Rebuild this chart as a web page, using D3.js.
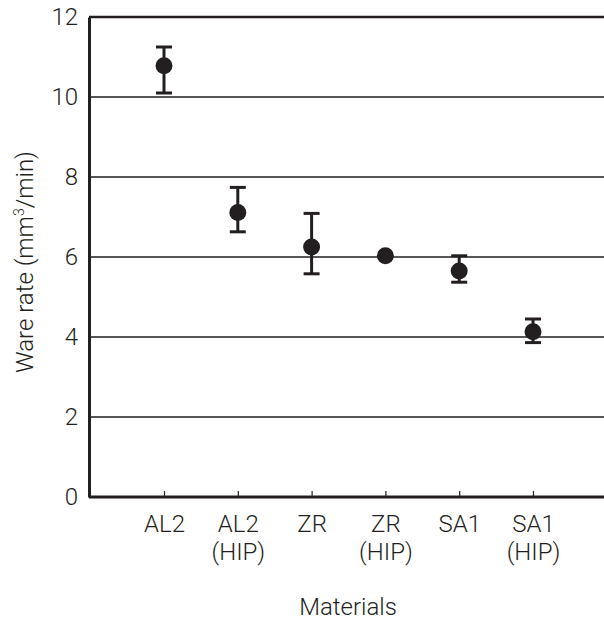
<!DOCTYPE html>
<html>
<head>
<meta charset="utf-8">
<script src="https://cdn.jsdelivr.net/npm/d3@7"></script>
<style>
  body { margin: 0; background: #fff; }
  text { font-family: Roboto, "Liberation Sans", sans-serif; font-weight: 300; fill: #231f20; }
</style>
</head>
<body>
<script>
// data
var materials = ["AL2", "AL2\n(HIP)", "ZR", "ZR\n(HIP)", "SA1", "SA1\n(HIP)"];
var wearRate  = [10.78, 7.11, 6.25, 6.03, 5.65, 4.13];
var errHigh   = [11.25, 7.74, 7.09, null, 6.03, 4.45];
var errLow    = [10.10, 6.63, 5.58, null, 5.37, 3.86];
var yTicks    = [0, 2, 4, 6, 8, 10, 12];

var W = 604, H = 621;
var plotLeft = 89, plotRight = 604, plotTop = 17, plotBottom = 497;
var ink = "#231f20";
var fs = 24;

var svg = d3.select("body").append("svg")
    .attr("width", W)
    .attr("height", H);

var x = d3.scalePoint().domain(materials).range([164, 533]);
var y = d3.scaleLinear().domain([0, 12]).range([plotBottom, plotTop]);

// gridlines
svg.append("g")
  .selectAll("line")
  .data(yTicks.filter(function(d) { return d > 0 && d < 12; }))
  .enter().append("line")
    .attr("x1", plotLeft).attr("x2", plotRight)
    .attr("y1", function(d) { return y(d); })
    .attr("y2", function(d) { return y(d); })
    .attr("stroke", ink)
    .attr("stroke-width", 1.3);

// top border
svg.append("line")
    .attr("x1", plotLeft).attr("x2", plotRight)
    .attr("y1", y(12)).attr("y2", y(12))
    .attr("stroke", ink).attr("stroke-width", 2.5);

// y axis
var yAxis = svg.append("g")
    .attr("transform", "translate(" + plotLeft + ",0)")
    .call(d3.axisLeft(y).tickValues(yTicks).tickSize(0).tickPadding(11));
yAxis.select(".domain").attr("stroke", ink).attr("stroke-width", 3);
yAxis.selectAll("text").attr("font-size", fs).attr("fill", ink)
    .attr("font-family", "Roboto, sans-serif");

// x axis
var xAxis = svg.append("g")
    .attr("transform", "translate(0," + plotBottom + ")")
    .call(d3.axisBottom(x).tickSize(-6).tickFormat(""));
xAxis.select(".domain").attr("d", "M" + plotLeft + ",0H" + plotRight)
    .attr("stroke", ink).attr("stroke-width", 3);
xAxis.selectAll(".tick line").attr("stroke", ink).attr("stroke-width", 1.2);

xAxis.selectAll(".tick").each(function(d) {
  var t = d3.select(this).append("text")
      .attr("text-anchor", "middle")
      .attr("font-size", fs)
      .attr("fill", ink);
  d.split("\n").forEach(function(line, i) {
    t.append("tspan").attr("x", 0).attr("y", 35 + i * 28).text(line);
  });
});

// error bars
var idx = d3.range(materials.length).filter(function(i) { return errHigh[i] != null; });
var eb = svg.append("g").attr("stroke", ink).attr("stroke-width", 3);
eb.selectAll(".stem").data(idx).enter().append("line")
    .attr("x1", function(i) { return x(materials[i]); })
    .attr("x2", function(i) { return x(materials[i]); })
    .attr("y1", function(i) { return y(errHigh[i]); })
    .attr("y2", function(i) { return y(errLow[i]); });
eb.selectAll(".capTop").data(idx).enter().append("line")
    .attr("x1", function(i) { return x(materials[i]) - 8; })
    .attr("x2", function(i) { return x(materials[i]) + 8; })
    .attr("y1", function(i) { return y(errHigh[i]); })
    .attr("y2", function(i) { return y(errHigh[i]); });
eb.selectAll(".capBot").data(idx).enter().append("line")
    .attr("x1", function(i) { return x(materials[i]) - 8; })
    .attr("x2", function(i) { return x(materials[i]) + 8; })
    .attr("y1", function(i) { return y(errLow[i]); })
    .attr("y2", function(i) { return y(errLow[i]); });

// points
svg.append("g").selectAll("circle")
  .data(wearRate)
  .enter().append("circle")
    .attr("cx", function(d, i) { return x(materials[i]); })
    .attr("cy", function(d) { return y(d); })
    .attr("r", 8.5)
    .attr("fill", ink);

// axis titles
svg.append("text")
    .attr("x", 348).attr("y", 615)
    .attr("text-anchor", "middle")
    .attr("font-size", fs)
    .text("Materials");

var yt = svg.append("text")
    .attr("transform", "translate(33,262) rotate(-90)")
    .attr("text-anchor", "middle")
    .attr("font-size", fs);
yt.append("tspan").text("Ware rate (mm");
yt.append("tspan").attr("font-size", 14).attr("dy", -9).text("3");
yt.append("tspan").attr("dy", 9).text("/min)");
</script>
</body>
</html>
